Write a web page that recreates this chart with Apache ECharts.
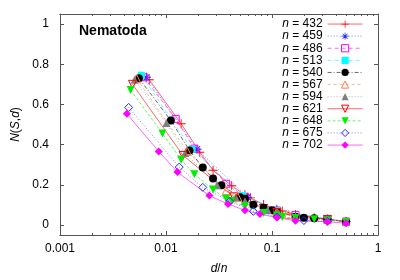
<!DOCTYPE html>
<html><head><meta charset="utf-8">
<script src="https://cdn.jsdelivr.net/npm/echarts@6/dist/echarts.min.js"></script>
<style>html,body{margin:0;padding:0;background:#fff}#c{width:400px;height:280px}</style>
</head><body><div id="c"></div>
<script>
const nValues = [432,459,486,513,540,567,594,621,648,675,702];

const d432 = [3,6,9,12,18,24,27,36,48,54,72,108,144,216];
const y432 = [0.723,0.504,0.362,0.272,0.195,0.150,0.135,0.102,0.078,0.070,0.052,0.036,0.029,0.017];
const d459 = [3,9,27,51,153];
const y459 = [0.735,0.377,0.138,0.072,0.030];
const d486 = [3,6,9,18,27,54,81,162,243];
const y486 = [0.735,0.528,0.380,0.205,0.140,0.072,0.050,0.030,0.017];
const d513 = [3,9,27,57,171];
const y513 = [0.745,0.377,0.146,0.072,0.031];
const d540 = [3,6,9,12,15,18,27,30,36,45,54,60,90,108,135,180,270];
const y540 = [0.730,0.520,0.371,0.286,0.231,0.198,0.138,0.130,0.100,0.086,0.073,0.065,0.041,0.036,0.033,0.028,0.016];
const d567 = [3,9,21,27,63,81,189];
const y567 = [0.728,0.366,0.171,0.138,0.066,0.052,0.028];
const d594 = [3,6,9,18,27,33,54,66,99,198,297];
const y594 = [0.723,0.507,0.358,0.198,0.138,0.118,0.074,0.062,0.043,0.027,0.016];
const d621 = [3,9,27,69,207];
const y621 = [0.700,0.346,0.140,0.062,0.027];
const d648 = [3,6,9,12,18,24,27,36,54,72,81,108,162,216,324];
const y648 = [0.672,0.455,0.325,0.252,0.176,0.130,0.119,0.093,0.060,0.047,0.040,0.034,0.028,0.024,0.015];
const d675 = [3,9,15,27,45,75,135,225];
const y675 = [0.585,0.288,0.187,0.117,0.068,0.040,0.022,0.018];
const d702 = [3,6,9,18,27,39,54,78,117,234,351];
const y702 = [0.553,0.366,0.263,0.146,0.104,0.073,0.054,0.037,0.021,0.016,0.009];

const xMajorTicks = [0.001,0.01,0.1,1];
const xMinorTicks = [0.002,0.003,0.004,0.005,0.006,0.007,0.008,0.009,
                     0.02,0.03,0.04,0.05,0.06,0.07,0.08,0.09,
                     0.2,0.3,0.4,0.5,0.6,0.7,0.8,0.9];
const yTicks = [0,0.2,0.4,0.6,0.8,1];

const dLists = [d432,d459,d486,d513,d540,d567,d594,d621,d648,d675,d702];
const yLists = [y432,y459,y486,y513,y540,y567,y594,y621,y648,y675,y702];

const FONT = 'Liberation Sans';
const PLUS = 'path://M4.5,0H5.5V4.5H10V5.5H5.5V10H4.5V5.5H0V4.5H4.5Z';
const STAR = 'path://M4.5,0H5.5V4.5H10V5.5H5.5V10H4.5V5.5H0V4.5H4.5Z M1.2,1.9L1.9,1.2L5,4.3L8.1,1.2L8.8,1.9L5.7,5L8.8,8.1L8.1,8.8L5,5.7L1.9,8.8L1.2,8.1L4.3,5Z';

const styles = [
  {c:'#ff0000', sym:PLUS, size:9, fill:true, dash:'solid'},
  {c:'#2828ff', sym:STAR, size:9, fill:true, dash:[1,2]},
  {c:'#ff00ff', sym:'rect', size:7, fill:false, dash:[4,3]},
  {c:'#00ffff', sym:'rect', size:7, fill:true, dash:[4,3]},
  {c:'#000000', sym:'circle', size:8, fill:true, dash:[4,2,1,2]},
  {c:'#ff7f50', sym:'triangle', size:8, fill:false, dash:[3,3]},
  {c:'#808080', sym:'triangle', size:8, fill:true, dash:[1,2]},
  {c:'#ff0000', sym:'triangle', size:8, fill:false, dash:'solid', rot:180},
  {c:'#00ee00', sym:'triangle', size:8, fill:true, dash:[3,2], rot:180},
  {c:'#2828ff', sym:'diamond', size:8, fill:false, dash:[1,2]},
  {c:'#ff00ff', sym:'diamond', size:8, fill:true, dash:'solid'}
];

const series = nValues.map((n, i) => {
  const s = styles[i];
  return {
    name: 'n = ' + n,
    type: 'line',
    xAxisIndex: 0, yAxisIndex: 0,
    data: dLists[i].map((d, j) => [d / n, yLists[i][j]]),
    symbol: s.sym,
    symbolSize: s.size,
    symbolRotate: s.rot || 0,
    showAllSymbol: true,
    lineStyle: {color: s.c, width: 0.8, type: s.dash, opacity: 0.75},
    itemStyle: {color: s.fill ? s.c : 'rgba(255,255,255,0)', borderColor: s.c, borderWidth: s.fill ? 0 : 1},
    emphasis: {disabled: true},
    animation: false
  };
});

const axisColor = '#555';
function xAx(pos, ticks, len, labels) {
  return {
    type: 'log', logBase: 10, min: 0.001, max: 1, position: pos, gridIndex: 0,
    axisLine: {show: true, onZero: false, lineStyle: {color: axisColor, width: 1}},
    axisTick: {show: true, inside: true, length: len, customValues: ticks, lineStyle: {color: axisColor}},
    axisLabel: labels ? {show: true, customValues: xMajorTicks, margin: 8, fontSize: 12, color: '#000', fontFamily: FONT,
      formatter: v => String(v)} : {show: false},
    splitLine: {show: false}
  };
}
function yAx(pos, labels) {
  return {
    type: 'value', min: -0.05, max: 1.05, position: pos, gridIndex: 0,
    axisLine: {show: true, onZero: false, lineStyle: {color: axisColor, width: 1}},
    axisTick: {show: true, inside: true, length: 4, customValues: yTicks, lineStyle: {color: axisColor}},
    axisLabel: labels ? {show: true, customValues: yTicks, margin: 11, fontSize: 12, color: '#000', fontFamily: FONT,
      formatter: v => String(Math.round(v * 10) / 10)} : {show: false},
    splitLine: {show: false}
  };
}

const xs = [xAx('bottom', xMajorTicks, 4, true), xAx('bottom', xMinorTicks, 2, false),
            xAx('top', xMajorTicks, 4, false), xAx('top', xMinorTicks, 2, false)];
xs[0].name = '{i|d}/{i|n}';
xs[0].nameLocation = 'middle';
xs[0].nameGap = 28;
xs[0].nameTextStyle = {fontSize: 12, fontFamily: FONT, color: '#000', rich: {i: {fontStyle: 'italic', fontSize: 12, fontFamily: FONT, color: '#000'}}};
const ys = [yAx('left', true), yAx('right', false)];
ys[0].name = '{i|N}({i|S},{i|d})';
ys[0].nameLocation = 'middle';
ys[0].nameRotate = 90;
ys[0].nameGap = 34;
ys[0].nameTextStyle = {fontSize: 12, fontFamily: FONT, color: '#000', rich: {i: {fontStyle: 'italic', fontSize: 12, fontFamily: FONT, color: '#000'}}};

const legendData = series.map((s, i) => ({
  name: s.name,
  itemStyle: {borderWidth: styles[i].fill ? 0 : 1}
}));

const chart = echarts.init(document.getElementById('c'), null, {renderer: 'canvas'});
chart.setOption({
  animation: false,
  backgroundColor: '#fff',
  title: {text: 'Nematoda', left: 79, top: 24, padding: 0,
    textStyle: {fontSize: 14, fontWeight: 'bold', fontFamily: FONT, color: '#000'}},
  grid: {left: 60, right: 22, top: 14, bottom: 40, containLabel: false},
  legend: {
    orient: 'vertical', right: 37, top: 18, align: 'right', padding: 0,
    itemWidth: 35, itemHeight: 9, itemGap: 0, selectedMode: false,
    lineStyle: {width: 0.8},
    data: legendData,
    formatter: name => '{i|n} = ' + name.slice(4),
    textStyle: {fontSize: 12, fontFamily: FONT, color: '#000', lineHeight: 12.1,
      rich: {i: {fontStyle: 'italic', fontSize: 12, fontFamily: FONT, color: '#000', lineHeight: 12.1}}}
  },
  xAxis: xs,
  yAxis: ys,
  series: series
});
</script></body></html>
